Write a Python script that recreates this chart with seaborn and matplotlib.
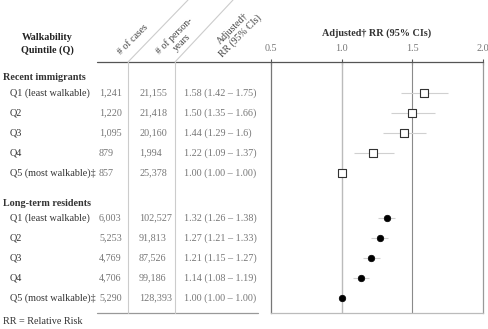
import numpy as np
import pandas as pd
import seaborn as sns
import matplotlib
matplotlib.use("Agg")
from matplotlib import pyplot as plt
from matplotlib import transforms
from matplotlib.lines import Line2D

# table values
quintiles = ["Q1 (least walkable)", "Q2", "Q3", "Q4", "Q5 (most walkable)\u2021"]

ri_cases = ["1,241", "1,220", "1,095", "879", "857"]
ri_pyears = ["21,155", "21,418", "20,160", "1,994", "25,378"]
ri_rr = [1.58, 1.50, 1.44, 1.22, 1.00]
ri_lo = [1.42, 1.35, 1.29, 1.09, 1.00]
ri_hi = [1.75, 1.66, 1.6, 1.37, 1.00]

lt_cases = ["6,003", "5,253", "4,769", "4,706", "5,290"]
lt_pyears = ["102,527", "91,813", "87,526", "99,186", "128,393"]
lt_rr = [1.32, 1.27, 1.21, 1.14, 1.00]
lt_lo = [1.26, 1.21, 1.15, 1.08, 1.00]
lt_hi = [1.38, 1.33, 1.27, 1.19, 1.00]

rr_ticks = [0.5, 1.0, 1.5, 2.0]

sns.set_style("white")
plt.rcParams["font.family"] = ["Liberation Serif", "DejaVu Serif"]
plt.rcParams["font.size"] = 7.3

W, H = 489, 329
fig = plt.figure(figsize=(W / 100, H / 100), dpi=100)
# pixel coords measured from the top-left corner of the image
px = transforms.Affine2D().scale(1 / W, -1 / H).translate(0, 1) + fig.transFigure

top, bottom = 62, 313
ax = fig.add_axes([271 / W, (H - bottom) / H, 212 / W, (bottom - top) / H])
ax.set_xlim(0.5, 2.0)
ax.set_ylim(bottom, top)

ri_y = 93 + 20 * np.arange(5)
lt_y = 218 + 20 * np.arange(5)

def fmt_rr(r, lo, hi):
    s = lambda v: ("%.2f" % v) if v != 1.6 else "1.6"
    return "%.2f (%s \u2013 %s)" % (r, s(lo), s(hi))

ri = pd.DataFrame({"rr": ri_rr, "lo": ri_lo, "hi": ri_hi, "y": ri_y})
lt = pd.DataFrame({"rr": lt_rr, "lo": lt_lo, "hi": lt_hi, "y": lt_y})

ax.axvline(1.0, color="#bbbbbb", lw=1.0, zorder=1)
ax.axvline(1.5, color="#8a8a8a", lw=0.8, zorder=1)
ax.hlines(ri["y"], ri["lo"], ri["hi"], color="#d0d0d0", lw=0.8, zorder=2)
ax.hlines(lt["y"], lt["lo"], lt["hi"], color="#d0d0d0", lw=0.8, zorder=2)
sns.scatterplot(data=ri, x="rr", y="y", marker="s", s=34, facecolor="white",
                edgecolor="#333333", linewidth=0.8, zorder=3, ax=ax)
sns.scatterplot(data=lt, x="rr", y="y", marker="o", s=22, color="black",
                edgecolor="black", linewidth=0.5, zorder=3, ax=ax)

ax.set_ylabel("")
ax.set_yticks([])
ax.xaxis.tick_top()
ax.xaxis.set_label_position("top")
ax.set_xticks(rr_ticks)
ax.set_xticklabels(["%.1f" % t for t in rr_ticks], color="#777777")
ax.tick_params(axis="x", direction="inout", length=5, width=0.8, color="#555555", pad=4)
ax.set_xlabel("Adjusted\u2020 RR (95% CIs)", fontweight="bold", color="#333333", labelpad=6)
ax.spines["left"].set_color("#777777")
ax.spines["right"].set_color("#999999")
ax.spines["bottom"].set_color("#bbbbbb")
ax.spines["top"].set_visible(False)
for sp in ax.spines.values():
    sp.set_linewidth(0.9)

# table rules
fig.add_artist(Line2D([97, 483], [top, top], color="#555555", lw=0.9, transform=px))
fig.add_artist(Line2D([97, 258], [bottom, bottom], color="#999999", lw=0.9, transform=px))
for x in (128, 175):
    fig.add_artist(Line2D([x, x], [top, bottom], color="#cccccc", lw=0.8, transform=px))
fig.add_artist(Line2D([128, 188], [top, 0], color="#cccccc", lw=0.8, transform=px))
fig.add_artist(Line2D([175, 233], [top, 0], color="#cccccc", lw=0.8, transform=px))

# headers
hdr = dict(transform=px, fontweight="bold", color="#222222", ha="center", va="center")
fig.text(47, 44, "Walkability\nQuintile (Q)", linespacing=1.5, **hdr)
rot = dict(transform=px, color="#444444", ha="center", va="center", rotation=45,
           rotation_mode="anchor", multialignment="center", linespacing=1.1, fontsize=7)
fig.text(133, 40, "# of cases", **rot)
fig.text(178, 39, "# of person-\nyears", **rot)
fig.text(237, 32, "Adjusted\u2020\nRR (95% CIs)", **rot)

# table body
lab = dict(transform=px, va="center", color="#333333")
num = dict(transform=px, va="center", color="#777777")
fig.text(3, 78, "Recent immigrants", fontweight="bold", **lab)
fig.text(3, 203, "Long-term residents", fontweight="bold", **lab)
for ys, cases, pyears, rr, lo, hi in [(ri_y, ri_cases, ri_pyears, ri_rr, ri_lo, ri_hi),
                                      (lt_y, lt_cases, lt_pyears, lt_rr, lt_lo, lt_hi)]:
    for i, y in enumerate(ys):
        fig.text(10, y, quintiles[i], **lab)
        fig.text(99, y, cases[i], **num)
        fig.text(139, y, pyears[i], **num)
        fig.text(184, y, fmt_rr(rr[i], lo[i], hi[i]), **num)

fig.text(3, 322, "RR = Relative Risk", **lab)

fig.savefig("out.png", dpi=100)
